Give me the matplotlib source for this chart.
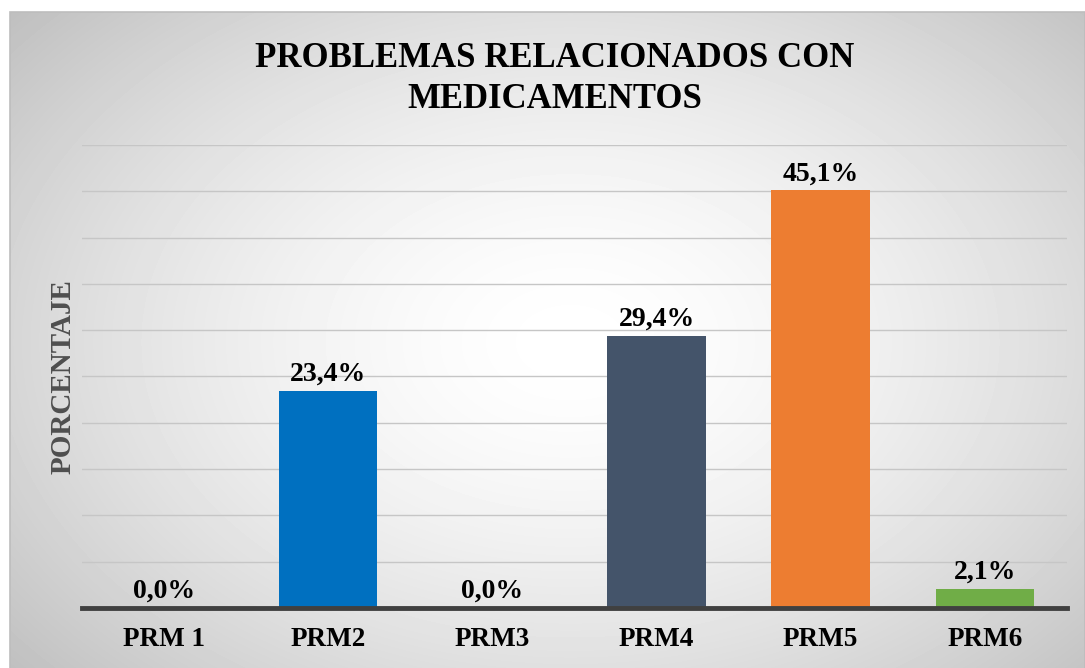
import numpy as np
import matplotlib.pyplot as plt
from matplotlib.patches import Rectangle

# data
categories = ['PRM 1', 'PRM2', 'PRM3', 'PRM4', 'PRM5', 'PRM6']
values = [0.0, 23.4, 0.0, 29.4, 45.1, 2.1]
labels = ['0,0%', '23,4%', '0,0%', '29,4%', '45,1%', '2,1%']
colors = ['#5B9BD5', '#0070C0', '#A5A5A5', '#44546A', '#ED7D31', '#70AD47']

plt.rcParams['font.family'] = ['Liberation Serif', 'DejaVu Serif']
plt.rcParams['font.weight'] = 'bold'

W, H = 1085, 668
fig = plt.figure(figsize=(W / 100, H / 100), dpi=100)
fig.patch.set_facecolor('white')

# radial gradient background inside the chart frame
bg = fig.add_axes([10 / W, 0, (W - 10) / W, (H - 12) / H])
yy, xx = np.mgrid[0:656, 0:1075]
r = np.sqrt(((xx - 560) / 640.0) ** 2 + ((yy - 330) / 440.0) ** 2)
shade = 1.0 - 0.2 * np.clip(r, 0, 1.25) ** 1.6
bg.imshow(shade, cmap='gray', vmin=0, vmax=1, aspect='auto',
          interpolation='bilinear')
bg.set_axis_off()
fig.patches.append(Rectangle((10 / W, -0.01), (W - 10) / W, (H - 12) / H + 0.01,
                             transform=fig.transFigure, fill=False,
                             edgecolor='#bdbdbd', linewidth=1.2))

ax = fig.add_axes([82 / W, 1 - 608 / H, 985 / W, (608 - 145) / H])
ax.patch.set_alpha(0)

x = np.arange(len(categories))
ax.bar(x, values, width=0.6, color=colors, zorder=3)
ax.set_xlim(-0.5, len(categories) - 0.5)
ax.set_ylim(0, 50)

for yv in np.arange(5, 55, 5):
    ax.axhline(yv, color='#c6c6c6', linewidth=1.0, zorder=1)
ax.axhline(0, color='#404040', linewidth=3.5, zorder=4, clip_on=False)

for xi, v, lab in zip(x, values, labels):
    ax.annotate(lab, (xi, v), xytext=(0, 3), textcoords='offset points',
                ha='center', va='bottom', fontsize=20, fontweight='bold',
                color='black', zorder=5)

for s in ax.spines.values():
    s.set_visible(False)
ax.set_yticks([])
ax.set_xticks(x)
ax.set_xticklabels(categories, fontsize=19.5, fontweight='bold')
ax.tick_params(axis='x', length=0, pad=14)

ax.set_ylabel('PORCENTAJE', fontsize=21, fontweight='bold', color='#4f4f4f',
              labelpad=4)

fig.text(555 / W, 1 - 79 / H, 'PROBLEMAS RELACIONADOS CON\nMEDICAMENTOS',
         ha='center', va='center', fontsize=25, fontweight='bold',
         linespacing=1.35)

fig.savefig('out.png', dpi=100)
